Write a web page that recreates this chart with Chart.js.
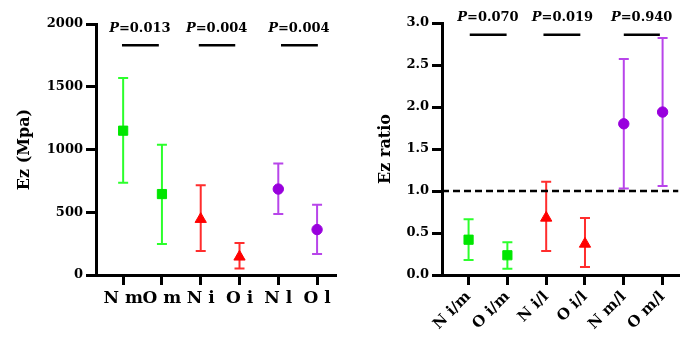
<!DOCTYPE html>
<html>
<head>
<meta charset="utf-8">
<script src="https://cdn.jsdelivr.net/npm/chart.js@4"></script>
<style>
	body { margin: 0; background: #fff; }
	.box { position: absolute; top: 0; width: 343px; height: 339px; }
</style>
</head>
<body>
<div class="box" style="left:0"><canvas id="chart-left"></canvas></div>
<div class="box" style="left:343px"><canvas id="chart-right"></canvas></div>
<script>
// left panel: Ez (Mpa)
const leftCats = ['N m', 'O m', 'N i', 'O i', 'N l', 'O l'];
const leftMean = [1150, 645, 445, 145, 685, 362];
const leftLow = [735, 247, 191, 52, 486, 167];
const leftHigh = [1570, 1038, 715, 255, 888, 560];
const leftYTicks = [0, 500, 1000, 1500, 2000];
const leftP = ['0.013', '0.004', '0.004'];

// right panel: Ez ratio
const rightCats = ['N i/m', 'O i/m', 'N i/l', 'O i/l', 'N m/l', 'O m/l'];
const rightMean = [0.42, 0.235, 0.68, 0.37, 1.80, 1.94];
const rightLow = [0.18, 0.075, 0.285, 0.095, 1.03, 1.06];
const rightHigh = [0.665, 0.39, 1.11, 0.68, 2.57, 2.82];
const rightYTicks = [0, 0.5, 1.0, 1.5, 2.0, 2.5, 3.0];
const rightP = ['0.070', '0.019', '0.940'];
const refLine = 1.0;

const groupStyles = [
	{ point: '#00e600', bar: '#2cff2c', shape: 'rect', radius: 6.5 },
	{ point: '#ff0000', bar: '#ff2d2d', shape: 'triangle', radius: 6.5 },
	{ point: '#9900dd', bar: '#b845ea', shape: 'circle', radius: 5.2 }
];

const FONT = "'DejaVu Serif', serif";

const errorBarPlugin = {
	id: 'errorBars',
	beforeDatasetsDraw(chart, args, opts) {
		const ctx = chart.ctx;
		const x = chart.scales.x, y = chart.scales.y;
		ctx.save();
		opts.low.forEach((lo, i) => {
			const px = x.getPixelForValue(i);
			const top = y.getPixelForValue(opts.high[i]);
			const bot = y.getPixelForValue(lo);
			ctx.strokeStyle = groupStyles[Math.floor(i / 2)].bar;
			ctx.lineWidth = 2;
			ctx.beginPath();
			ctx.moveTo(px, top); ctx.lineTo(px, bot);
			ctx.moveTo(px - 5, top); ctx.lineTo(px + 5, top);
			ctx.moveTo(px - 5, bot); ctx.lineTo(px + 5, bot);
			ctx.stroke();
		});
		ctx.restore();
	},
	afterDraw(chart, args, opts) {
		const ctx = chart.ctx;
		const x = chart.scales.x, y = chart.scales.y;
		ctx.save();
		ctx.fillStyle = '#000';
		ctx.textBaseline = 'middle';
		opts.pTexts.forEach((t, i) => {
			const cx = x.getPixelForValue(opts.pTextX[i]);
			const cy = y.getPixelForValue(opts.pTextY);
			ctx.font = "italic bold 13px " + FONT;
			const w1 = ctx.measureText('P').width;
			ctx.font = "bold 13px " + FONT;
			const rest = '=' + t;
			const w2 = ctx.measureText(rest).width;
			const startX = cx - (w1 + w2) / 2;
			ctx.textAlign = 'left';
			ctx.font = "italic bold 13px " + FONT;
			ctx.fillText('P', startX, cy);
			ctx.font = "bold 13px " + FONT;
			ctx.fillText(rest, startX + w1, cy);
		});
		ctx.restore();
	}
};

function makeChart(id, cfg) {
	const datasets = [];
	groupStyles.forEach((g, gi) => {
		datasets.push({
			data: [gi * 2, gi * 2 + 1].map(i => ({ x: i, y: cfg.mean[i] })),
			pointStyle: g.shape,
			pointRadius: g.radius,
			pointHoverRadius: g.radius,
			backgroundColor: g.point,
			borderColor: g.point,
			borderWidth: 1
		});
	});
	cfg.pStart.forEach((s, i) => {
		datasets.push({
			data: [{ x: s, y: cfg.pLineY }, { x: cfg.pEnd[i], y: cfg.pLineY }],
			showLine: true,
			borderColor: '#000',
			borderWidth: 2.5,
			pointRadius: 0
		});
	});
	if (cfg.ref !== undefined) {
		datasets.push({
			data: [{ x: cfg.xMin, y: cfg.ref }, { x: cfg.xMax, y: cfg.ref }],
			showLine: true,
			borderColor: '#000',
			borderWidth: 2.5,
			borderDash: [7, 4],
			pointRadius: 0
		});
	}

	return new Chart(document.getElementById(id), {
		type: 'scatter',
		data: { datasets },
		plugins: [errorBarPlugin],
		options: {
			responsive: true,
			maintainAspectRatio: false,
			animation: false,
			layout: { padding: { top: cfg.padTop, left: 0, right: 0, bottom: 0 } },
			plugins: {
				legend: { display: false },
				tooltip: { enabled: false },
				errorBars: {
					low: cfg.low, high: cfg.high,
					pTexts: cfg.pTexts, pTextX: cfg.pTextX, pTextY: cfg.pTextY
				}
			},
			scales: {
				x: {
					type: 'linear',
					min: cfg.xMin,
					max: cfg.xMax,
					afterBuildTicks: scale => { scale.ticks = cfg.cats.map((c, i) => ({ value: i })); },
					afterFit: scale => { scale.height = 64; },
					ticks: {
						autoSkip: false,
						callback: (v, i) => cfg.cats[i],
						color: '#000',
						font: { family: FONT, weight: 'bold', size: cfg.xFont },
						minRotation: cfg.rot,
						maxRotation: cfg.rot,
						padding: 3
					},
					grid: { drawOnChartArea: false, color: '#000', lineWidth: 3, tickLength: 10 },
					border: { color: '#000', width: 3 }
				},
				y: {
					min: 0,
					max: cfg.yTicks[cfg.yTicks.length - 1],
					afterBuildTicks: scale => { scale.ticks = cfg.yTicks.map(v => ({ value: v })); },
					afterFit: scale => { scale.width = cfg.yWidth; },
					ticks: {
						callback: v => cfg.yFmt(v),
						color: '#000',
						font: { family: FONT, weight: 'bold', size: 13 },
						padding: 3
					},
					title: {
						display: true,
						text: cfg.yTitle,
						color: '#000',
						font: { family: FONT, weight: 'bold', size: 16 },
						padding: { top: cfg.titlePad, bottom: 0 }
					},
					grid: { drawOnChartArea: false, color: '#000', lineWidth: 3, tickLength: 10 },
					border: { color: '#000', width: 3 }
				}
			}
		}
	});
}

makeChart('chart-left', {
	cats: leftCats, mean: leftMean, low: leftLow, high: leftHigh,
	yTicks: leftYTicks, yFmt: v => String(v), yTitle: 'Ez (Mpa)',
	xMin: -0.7, xMax: 5.475, yWidth: 96, padTop: 24, titlePad: 15,
	xFont: 17, rot: 0,
	pTexts: leftP, pTextX: [0.43, 2.41, 4.53], pTextY: 1960,
	pStart: [-0.03, 1.95, 4.07], pEnd: [0.92, 2.89, 5.02], pLineY: 1830
});

makeChart('chart-right', {
	cats: rightCats, mean: rightMean, low: rightLow, high: rightHigh,
	yTicks: rightYTicks, yFmt: v => v.toFixed(1), yTitle: 'Ez ratio',
	xMin: -0.685, xMax: 5.41, yWidth: 99, padTop: 23, titlePad: 33,
	xFont: 15, rot: 45, ref: refLine,
	pTexts: rightP, pTextX: [0.5, 2.42, 4.46], pTextY: 3.06,
	pStart: [0.03, 1.93, 4.0], pEnd: [0.98, 2.88, 4.93], pLineY: 2.86
});
</script>
</body>
</html>
